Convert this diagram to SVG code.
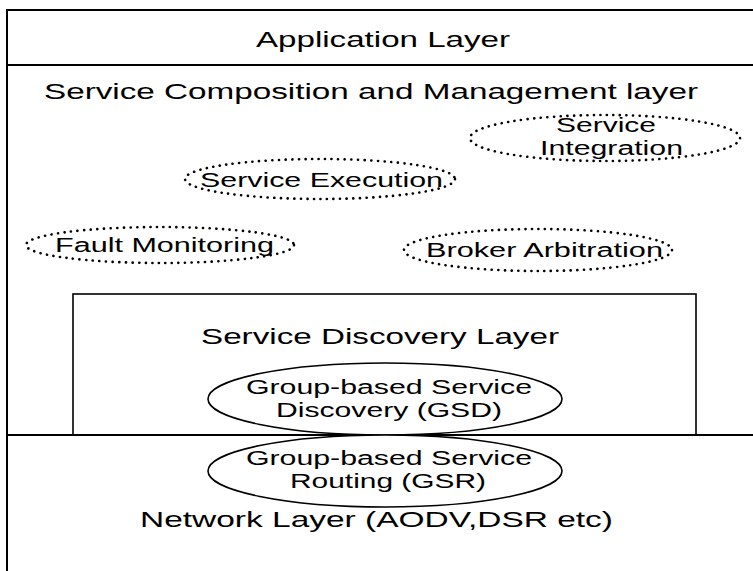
<svg xmlns="http://www.w3.org/2000/svg" width="753" height="571" viewBox="0 0 753 571">
<style>
text{font-family:"Liberation Sans",Arial,sans-serif;fill:#000}
.big{font-size:22px}
.sm{font-size:20px}
.line{stroke:#000;stroke-width:2;fill:none}
.dot{fill:none;stroke:#000;stroke-width:2.6;stroke-dasharray:0.1 6.5;stroke-linecap:round}
.sol{fill:#fff;stroke:#000;stroke-width:1.6}
</style>
<rect width="753" height="571" fill="#fff"/>
<g id="frame">
<line class="line" x1="7" y1="10" x2="753" y2="10"/>
<line class="line" x1="7" y1="65" x2="753" y2="65"/>
<line class="line" x1="7" y1="9" x2="7" y2="571"/>
</g>
<g id="application-layer">
<text class="big" x="256" y="47" textLength="254" lengthAdjust="spacingAndGlyphs">Application Layer</text>
</g>
<g id="composition-layer">
<text class="big" x="44" y="99" textLength="654" lengthAdjust="spacingAndGlyphs">Service Composition and Management layer</text>
</g>
<g id="service-integration">
<ellipse class="dot" cx="605" cy="138" rx="135" ry="23"/>
<text class="sm" x="556" y="132" textLength="100" lengthAdjust="spacingAndGlyphs">Service</text>
<text class="sm" x="540" y="155" textLength="143" lengthAdjust="spacingAndGlyphs">Integration</text>
</g>
<g id="service-execution">
<ellipse class="dot" cx="320" cy="179" rx="135" ry="20"/>
<text class="sm" x="200" y="187" textLength="243" lengthAdjust="spacingAndGlyphs">Service Execution</text>
</g>
<g id="fault-monitoring">
<ellipse class="dot" cx="160" cy="245" rx="134" ry="18"/>
<text class="sm" x="55" y="252" textLength="219" lengthAdjust="spacingAndGlyphs">Fault Monitoring</text>
</g>
<g id="broker-arbitration">
<ellipse class="dot" cx="538" cy="250" rx="134" ry="21"/>
<text class="sm" x="426" y="257" textLength="237" lengthAdjust="spacingAndGlyphs">Broker Arbitration</text>
</g>
<g id="service-discovery-layer">
<rect x="73" y="294" width="623" height="141" fill="none" stroke="#000" stroke-width="1.6"/>
<text class="big" x="201" y="344" textLength="358" lengthAdjust="spacingAndGlyphs">Service Discovery Layer</text>
</g>
<g id="network-divider">
<line class="line" x1="7" y1="435" x2="753" y2="435"/>
</g>
<g id="gsd">
<ellipse class="sol" cx="385" cy="399" rx="177" ry="36"/>
<text class="sm" x="246" y="394" textLength="286" lengthAdjust="spacingAndGlyphs">Group-based Service</text>
<text class="sm" x="276" y="417" textLength="226" lengthAdjust="spacingAndGlyphs">Discovery (GSD)</text>
</g>
<g id="gsr">
<ellipse class="sol" cx="385" cy="471" rx="177" ry="36"/>
<text class="sm" x="246" y="465" textLength="286" lengthAdjust="spacingAndGlyphs">Group-based Service</text>
<text class="sm" x="290" y="488" textLength="196" lengthAdjust="spacingAndGlyphs">Routing (GSR)</text>
</g>
<g id="network-layer">
<text class="big" x="140" y="527" textLength="473" lengthAdjust="spacingAndGlyphs">Network Layer (AODV,DSR etc)</text>
</g>
<g id="connectors"></g>
</svg>
